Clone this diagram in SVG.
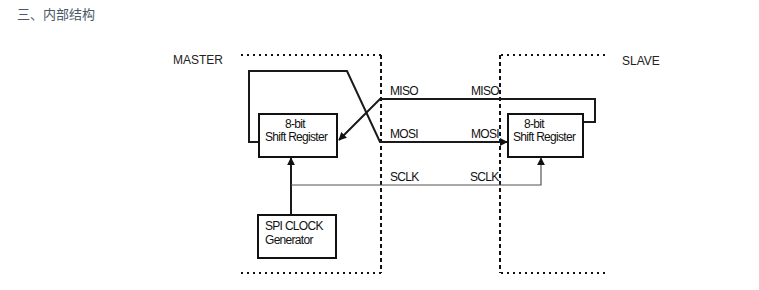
<svg xmlns="http://www.w3.org/2000/svg" width="759" height="290" viewBox="0 0 759 290">
<style>
.t{font-family:"Liberation Sans",Arial,sans-serif;font-size:12px;fill:#222;}
.s{font-family:"Liberation Sans",Arial,sans-serif;font-size:12px;fill:#111;letter-spacing:-0.7px;}
.box{fill:#fff;stroke:#111;stroke-width:2;}
.w{fill:none;stroke:#1a1a1a;stroke-width:2;}
.thin{fill:none;stroke:#555;stroke-width:1.2;}
.dot{fill:none;stroke:#111;stroke-width:2;stroke-dasharray:2 4;}
.dash{fill:none;stroke:#111;stroke-width:2;stroke-dasharray:4 3;}
</style>
<defs>
<marker id="ah2" viewBox="0 0 10 10" refX="9" refY="5" markerWidth="8" markerHeight="8" orient="auto" markerUnits="userSpaceOnUse"><path d="M0,0 L10,5 L0,10 z" fill="#111"/></marker>
</defs>
<text x="17" y="19" style="font-family:'Noto Sans CJK SC',sans-serif;font-size:13px;fill:#4a5868;">三、内部结构</text>
<g id="boundaries">
<path class="dot" d="M241,55 H381"/>
<path class="dash" d="M381,55 V273"/>
<path class="dot" d="M241,273 H381"/>
<path class="dot" d="M501,55 H608"/>
<path class="dash" d="M500,55 V273"/>
<path class="dot" d="M501,273 H608"/>
<text class="t" x="173" y="64">MASTER</text>
<text class="t" x="622" y="65">SLAVE</text>
</g>
<g id="connectors">
<path class="w" d="M259,142 H249 V71 H347 L380,142 H507" marker-end="url(#ah2)"/>
<path class="w" d="M583,122 H595 V99 H380 L339,140" marker-end="url(#ah2)"/>
<path class="w" d="M291,215 V158" marker-end="url(#ah2)"/>
<path class="thin" d="M291,185 H541 V158" marker-end="url(#ah2)"/>
<text class="s" x="390" y="95">MISO</text>
<text class="s" x="390" y="138">MOSI</text>
<text class="s" x="390" y="181">SCLK</text>
<text class="s" x="471" y="95">MISO</text>
<text class="s" x="471" y="138">MOSI</text>
<text class="s" x="470" y="181">SCLK</text>
</g>
<g id="master-sr">
<rect class="box" x="259" y="114" width="78" height="43"/>
<text class="s" x="285" y="128">8-bit</text>
<text class="s" x="265" y="141">Shift Register</text>
</g>
<g id="slave-sr">
<rect class="box" x="508" y="114" width="75" height="43"/>
<text class="s" x="524" y="128">8-bit</text>
<text class="s" x="513" y="141">Shift Register</text>
</g>
<g id="clock">
<rect class="box" x="258" y="215" width="78" height="43"/>
<text class="s" x="265" y="230">SPI CLOCK</text>
<text class="s" x="265" y="244">Generator</text>
</g>
</svg>
